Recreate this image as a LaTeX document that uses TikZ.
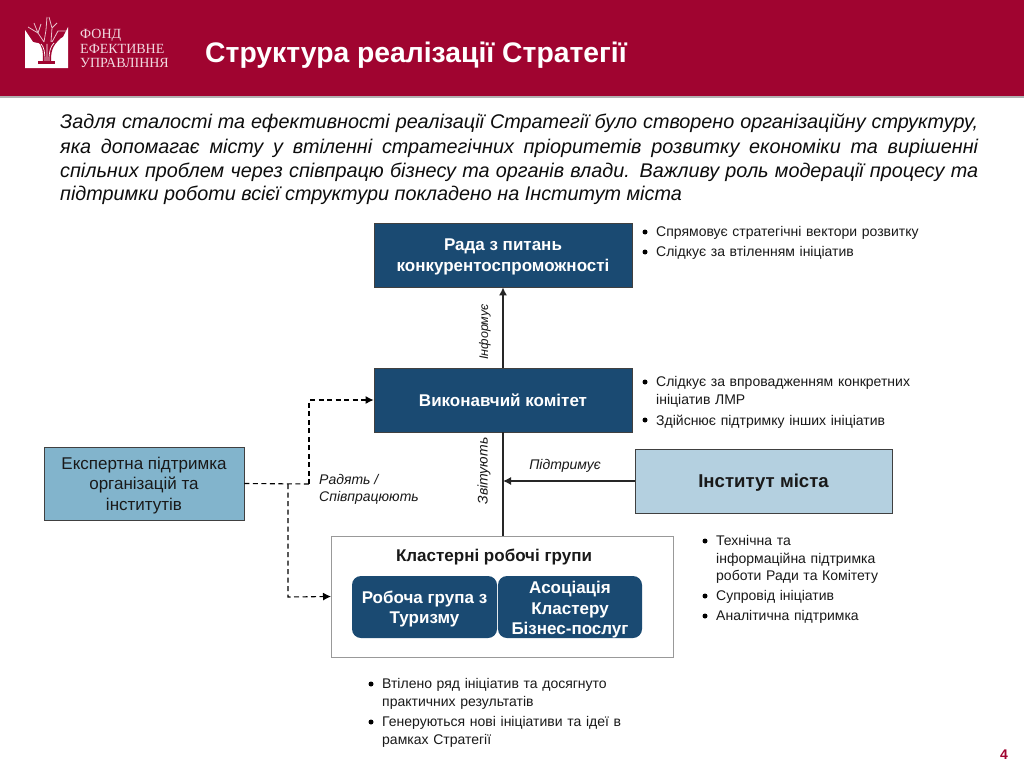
\documentclass[tikz,border=0pt]{standalone}
\usepackage{fontspec}
\setmainfont{Liberation Sans}
\newfontfamily\logofont{Liberation Serif}
\usetikzlibrary{arrows.meta}
\definecolor{crimson}{HTML}{A00430}
\definecolor{navy}{HTML}{1A4A72}
\definecolor{lightblue}{HTML}{B4D0E0}
\definecolor{midblue}{HTML}{82B4CC}
\definecolor{boxline}{HTML}{404040}
\newcommand{\shifted}[2]{\raisebox{-#1pt}[\height][\depth]{\begin{tabular}{@{}c@{}}#2\end{tabular}}}
\tikzset{
 darkbox/.style={draw=boxline,line width=0.8pt,fill=navy,text=white,font=\fontsize{17}{21}\selectfont\bfseries,align=center,inner sep=0pt,minimum width=258pt},
 roundbox/.style={fill=navy,rounded corners=9pt,text=white,font=\fontsize{17}{20.5}\selectfont\bfseries,align=center,inner sep=0pt,minimum height=62pt},
 note/.style={anchor=north west,inner sep=0pt,font=\fontsize{14}{17.5}\selectfont,align=left,text=black!90},
 dot/.style={circle,fill=black,inner sep=0pt,minimum size=5pt},
 lab/.style={font=\fontsize{14}{17}\selectfont\itshape,inner sep=0pt,text=black!90},
 conn/.style={line width=1.2pt,black!85},
 head/.style={-{Latex[length=8pt,width=8pt]}},
 dashconn/.style={line width=1.1pt,dash pattern=on 5pt off 3.5pt,black},
 logotxt/.style={anchor=west,inner sep=0pt,text=white!85!crimson,font=\logofont\fontsize{14}{14}\selectfont},
 bodytxt/.style={anchor=west,inner sep=0pt,font=\fontsize{19.8}{24}\selectfont\itshape,text=black!95},
}
\newcommand{\bodyline}[2]{\node[bodytxt] at (60,#1) {\makebox[918pt][s]{#2}};}
\newcommand{\noteitem}[4]{\node[dot] at (#1,#2) {}; \node[note,text width=#3pt] at (#1+11,#2-5.5) {#4};}
\begin{document}
\begin{tikzpicture}[x=1pt,y=-1pt]
\useasboundingbox (0,0) rectangle (1024,768);
\fill[white] (0,0) rectangle (1024,768);
\fill[crimson] (0,0) rectangle (1024,96);
\fill[black!30] (0,96) rectangle (1024,97.5);
% logo
\fill[white] (25,30) -- (33,42) -- (42,44) -- (55,42) -- (63,37) -- (68,27) -- (68,68) -- (25,68) -- cycle;
\fill[crimson] (37,41) .. controls (43,46) and (43,52) .. (43,61) -- (51,61) .. controls (51,52) and (52,46) .. (60,39) -- cycle;
\draw[white,line width=0.7pt] (45,61) .. controls (45,52) and (44,47) .. (41,44) (47,61) -- (47,44) (49,61) .. controls (49,52) and (50,47) .. (54,43);
\fill[crimson] (38,61) rectangle (55,64);
\draw[white!75!crimson,line width=0.8pt] (28,27) -- (38,33) -- (44,42) (34,23) -- (38,33) -- (41,24) (44,42) -- (46,30) -- (47,17) (51,42) -- (52,28) -- (49,17) (52,42) -- (58,31) -- (66,31) (52,28) -- (57,23);
\node[logotxt] (logotext1) at (80,35) {ФОНД};
\node[logotxt] (logotext2) at (80,49) {ЕФЕКТИВНЕ};
\node[logotxt] (logotext3) at (80,63) {УПРАВЛІННЯ};
\node[anchor=west,inner sep=0pt,text=white,font=\fontsize{28.3}{32}\selectfont\bfseries] (title) at (205,55.5) {Структура реалізації Стратегії};
% body
\bodyline{123}{Задля сталості та ефективності реалізації Стратегії було створено організаційну структуру,}
\bodyline{148}{яка допомагає місту у втіленні стратегічних пріоритетів розвитку економіки та вирішенні}
\bodyline{172}{спільних проблем через співпрацю бізнесу та органів влади. Важливу роль модерації процесу та}
\node[bodytxt] (bodylast) at (60,195) {підтримки роботи всієї структури покладено на Інститут міста};
% boxes
\node[darkbox,minimum height=64pt] (rada) at (503,255) {\shifted{2}{Рада з питань\\конкурентоспроможності}};
\node[darkbox,minimum height=64pt] (vik) at (503,400) {\shifted{2.5}{Виконавчий комітет}};
\node[draw=boxline,line width=0.8pt,fill=midblue,minimum width=200pt,minimum height=73pt,align=center,inner sep=0pt,font=\fontsize{17}{20.5}\selectfont,text=black!90] (expert) at (144,483.5) {\shifted{2}{Експертна підтримка\\організацій та\\інститутів}};
\node[draw=boxline,line width=0.8pt,fill=lightblue,minimum width=257pt,minimum height=64pt,inner sep=0pt,font=\fontsize{18.6}{20}\selectfont\bfseries,text=black!90] (inst) at (763.5,481) {\shifted{2.5}{Інститут міста}};
\node[draw=black!40,line width=1pt,fill=white,minimum width=342pt,minimum height=121pt,inner sep=0pt] (cluster) at (502.5,596.5) {};
\node[inner sep=0pt,font=\fontsize{17}{18}\selectfont\bfseries,text=black!90] (clustertitle) at (494,557) {Кластерні робочі групи};
\node[roundbox,minimum width=145pt] (tour) at (424.5,607) {\shifted{2.5}{Робоча група з\\Туризму}};
\node[roundbox,minimum width=144pt] (assoc) at (570,607) {\shifted{3}{Асоціація\\Кластеру\\Бізнес-послуг}};
% connectors
\coordinate (stem) at (503,481);
\coordinate (split1) at (309,484);
\coordinate (split2) at (288,484);
\coordinate (clusterjoin) at (503,536);
\draw[conn,head] (vik.north) -- (rada.south);
\draw[conn] (vik.south) -- (clusterjoin);
\draw[conn,head] (inst.west) -- (stem);
\draw[dashconn] (expert.east) -- (split1);
\draw[dashconn,head] (split1) -- (309,400) -- (vik.west);
\draw[dashconn,head] (split2) -- (288,597) -- (cluster.west);
% labels
\node[lab,rotate=90,font=\fontsize{12.5}{20}\selectfont\itshape] (inform) at (485,332) {Інформує};
\node[lab,rotate=90] (zvit) at (484,471) {Звітують};
\node[lab] (pidtr) at (565,466) {Підтримує};
\node[lab,anchor=north west,align=left] (radyat) at (319,474) {Радять /\\Співпрацюють};
% notes
\noteitem{645}{232}{280}{Спрямовує стратегічні вектори розвитку}
\noteitem{645}{252}{280}{Слідкує за втіленням ініціатив}
\noteitem{645}{382}{270}{Слідкує за впровадженням конкретних\\ініціатив ЛМР}
\noteitem{645}{420}{270}{Здійснює підтримку інших ініціатив}
\noteitem{705}{541}{180}{Технічна та\\інформаційна підтримка\\роботи Ради та Комітету}
\noteitem{705}{596}{180}{Супровід ініціатив}
\noteitem{705}{616}{180}{Аналітична підтримка}
\noteitem{371}{684}{260}{Втілено ряд ініціатив та досягнуто\\практичних результатів}
\noteitem{371}{722}{260}{Генеруються нові ініціативи та ідеї в\\рамках Стратегії}
\node[inner sep=0pt,text=crimson,font=\fontsize{14}{14}\selectfont\bfseries] (page) at (1004,755) {4};
\end{tikzpicture}
\end{document}
